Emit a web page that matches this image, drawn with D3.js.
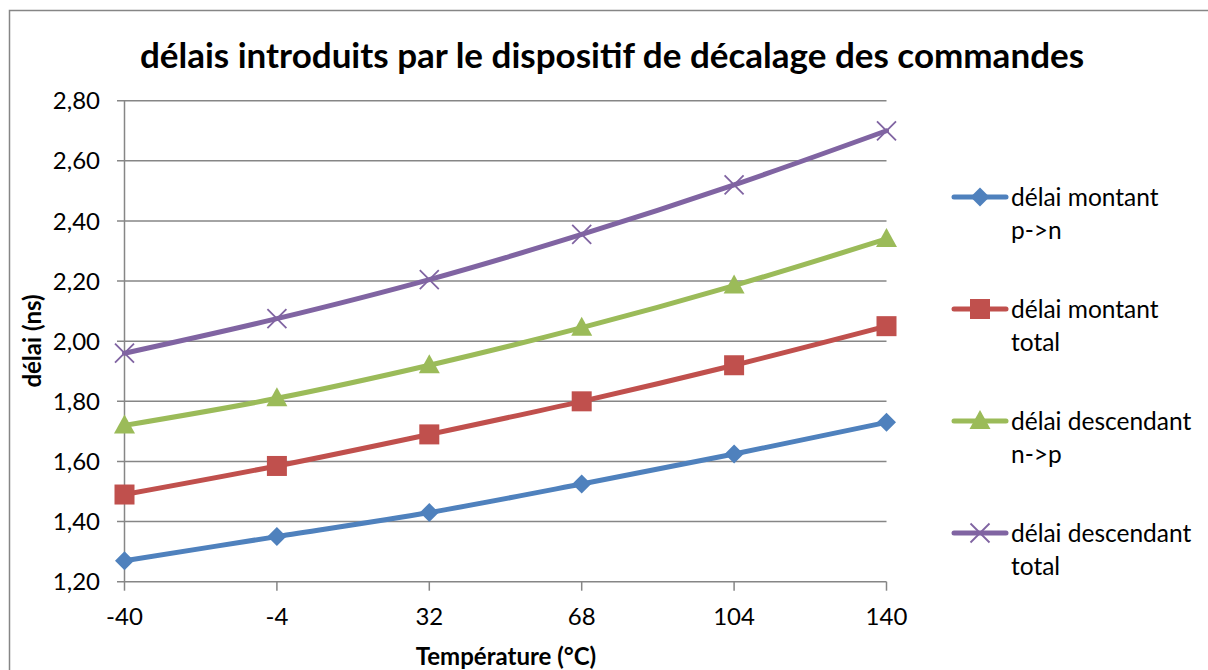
<!DOCTYPE html>
<html><head><meta charset="utf-8">
<script src="https://cdn.jsdelivr.net/npm/d3@7"></script>
<style>
body{margin:0;background:#fff;}
svg text{font-family:Lato,"Open Sans",sans-serif;fill:#000;}
</style></head>
<body><svg id="c" width="1208" height="670"></svg>
<script>
const categories = ["-40","-4","32","68","104","140"];
const yTicks = [1.2,1.4,1.6,1.8,2.0,2.2,2.4,2.6,2.8];
const montantPN = [1.27,1.35,1.43,1.525,1.625,1.73];
const montantTotal = [1.49,1.585,1.69,1.80,1.92,2.05];
const descendantNP = [1.72,1.81,1.92,2.045,2.185,2.34];
const descendantTotal = [1.96,2.075,2.205,2.355,2.52,2.70];
const seriesNames = [["délai montant","p->n"],["délai montant","total"],["délai descendant","n->p"],["délai descendant","total"]];
const colors = ["#4F81BD","#C0504D","#9BBB59","#8064A2"];
const markers = ["diamond","square","triangle","x"];
const series = [montantPN,montantTotal,descendantNP,descendantTotal].map((v,i)=>({name:seriesNames[i],values:v,color:colors[i],marker:markers[i]}));

const svg = d3.select("#c");
svg.append("rect").attr("x",9.5).attr("y",10.5).attr("width",1260).attr("height",700)
  .attr("fill","none").attr("stroke","#868686").attr("stroke-width",1.5);

const x = d3.scalePoint().domain(categories).range([124.5,886.5]).padding(0);
const y = d3.scaleLinear().domain([1.2,2.8]).range([581.7,100.7]);

svg.append("g").selectAll("line").data(yTicks).join("line")
  .attr("x1",117).attr("x2",886.5).attr("y1",d=>y(d)).attr("y2",d=>y(d))
  .attr("stroke","#868686").attr("stroke-width",1.5);
svg.append("line").attr("x1",124.5).attr("x2",124.5).attr("y1",y(2.8)).attr("y2",y(1.2))
  .attr("stroke","#868686").attr("stroke-width",1.5);
svg.append("g").selectAll("line").data(categories).join("line")
  .attr("x1",d=>x(d)).attr("x2",d=>x(d)).attr("y1",y(1.2)).attr("y2",y(1.2)+9)
  .attr("stroke","#868686").attr("stroke-width",1.5);

const fmt = d=>d.toFixed(2).replace(".",",");
svg.append("g").selectAll("text").data(yTicks).join("text")
  .attr("x",100).attr("y",d=>y(d)).attr("dy","0.36em").attr("text-anchor","end")
  .attr("font-size",24).text(fmt);
svg.append("g").selectAll("text").data(categories).join("text")
  .attr("x",d=>x(d)).attr("y",625).attr("text-anchor","middle")
  .attr("font-size",24).text(d=>d);

svg.append("text").attr("x",612).attr("y",68).attr("text-anchor","middle")
  .attr("font-size",35).attr("font-weight","bold").text("délais introduits par le dispositif de décalage des commandes");
svg.append("text").attr("x",506).attr("y",665).attr("text-anchor","middle")
  .attr("font-size",24).attr("font-weight","bold").text("Température (°C)");
svg.append("text").attr("transform","translate(41,341) rotate(-90)").attr("text-anchor","middle")
  .attr("font-size",24).attr("font-weight","bold").text("délai (ns)");

const line = d3.line().x((d,i)=>x(categories[i])).y(d=>y(d)).curve(d3.curveCatmullRom.alpha(0));

function drawMarker(g,type,color,cx,cy){
  if(type==="diamond"){
    g.append("path").attr("d",`M${cx},${cy-9.5}L${cx+9.5},${cy}L${cx},${cy+9.5}L${cx-9.5},${cy}Z`).attr("fill",color);
  } else if(type==="square"){
    g.append("rect").attr("x",cx-10).attr("y",cy-10).attr("width",20).attr("height",20).attr("fill",color);
  } else if(type==="triangle"){
    g.append("path").attr("d",`M${cx},${cy-11}L${cx+10.5},${cy+8}L${cx-10.5},${cy+8}Z`).attr("fill",color);
  } else {
    g.append("path").attr("d",`M${cx-9.5},${cy-9.5}L${cx+9.5},${cy+9.5}M${cx-9.5},${cy+9.5}L${cx+9.5},${cy-9.5}`)
      .attr("stroke",color).attr("stroke-width",1.8).attr("fill","none");
  }
}

series.forEach(s=>{
  const g = svg.append("g");
  g.append("path").datum(s.values).attr("d",line).attr("fill","none")
    .attr("stroke",s.color).attr("stroke-width",5).attr("stroke-linecap","round");
  s.values.forEach((v,i)=>drawMarker(g,s.marker,s.color,x(categories[i]),y(v)));
});

series.forEach((s,i)=>{
  const ly = 197 + i*112;
  const g = svg.append("g");
  g.append("line").attr("x1",954).attr("x2",1006).attr("y1",ly).attr("y2",ly)
    .attr("stroke",s.color).attr("stroke-width",5).attr("stroke-linecap","round");
  drawMarker(g,s.marker,s.color,980,ly);
  g.append("text").attr("x",1011).attr("y",ly).attr("dy","0.36em").attr("font-size",24.5).text(s.name[0]);
  g.append("text").attr("x",1011).attr("y",ly+33).attr("dy","0.36em").attr("font-size",24.5).text(s.name[1]);
});
</script></body></html>
